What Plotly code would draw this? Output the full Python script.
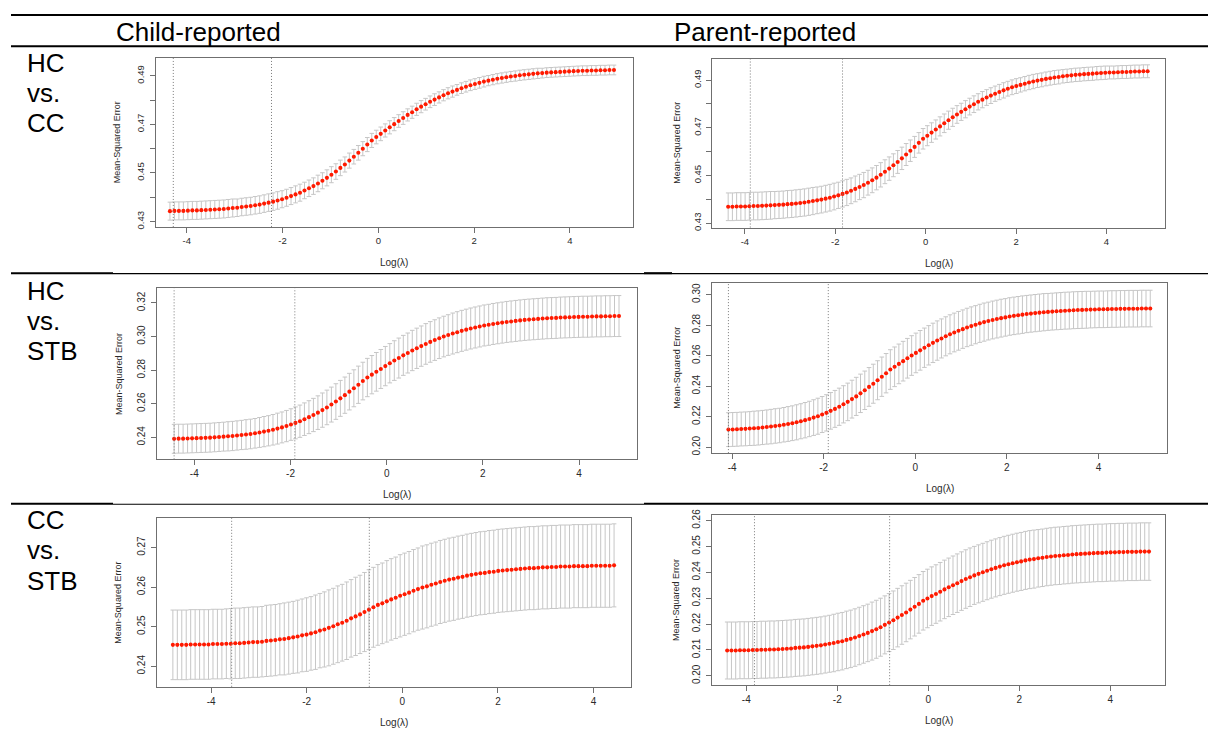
import numpy as np
import plotly.graph_objects as go

W, H = 1208, 729

# ---------------------------------------------------------------------------
# Cross-validated LASSO curves: mean-squared error (+/- 1 SE) along a
# 100-value lambda path, with lambda.min and lambda.1se marked.
# Each path is an evenly spaced log(lambda) grid between the two end points.
# ---------------------------------------------------------------------------

# Child-reported, HC vs. CC
loglam_child_hc_cc = [-4.35, 4.92]
cut_child_hc_cc = [-4.28, -2.23]
mse_child_hc_cc = [
    0.4343, 0.4344, 0.4344, 0.4344, 0.4345, 0.4346, 0.4346, 0.4347, 0.4348, 0.4349,
    0.4350, 0.4351, 0.4352, 0.4354, 0.4356, 0.4357, 0.4360, 0.4362, 0.4364, 0.4367,
    0.4370, 0.4374, 0.4378, 0.4382, 0.4387, 0.4392, 0.4398, 0.4405, 0.4412, 0.4419,
    0.4428, 0.4437, 0.4446, 0.4457, 0.4468, 0.4480, 0.4493, 0.4506, 0.4521, 0.4535,
    0.4551, 0.4567, 0.4583, 0.4600, 0.4617, 0.4634, 0.4648, 0.4661, 0.4675, 0.4688,
    0.4701, 0.4714, 0.4726, 0.4739, 0.4750, 0.4762, 0.4773, 0.4783, 0.4793, 0.4802,
    0.4811, 0.4820, 0.4828, 0.4835, 0.4842, 0.4849, 0.4855, 0.4861, 0.4866, 0.4871,
    0.4876, 0.4880, 0.4884, 0.4888, 0.4891, 0.4894, 0.4897, 0.4899, 0.4902, 0.4904,
    0.4906, 0.4908, 0.4910, 0.4911, 0.4913, 0.4914, 0.4915, 0.4916, 0.4917, 0.4918,
    0.4919, 0.4920, 0.4921, 0.4921, 0.4922, 0.4922, 0.4923, 0.4923, 0.4924, 0.4924,
]
se_child_hc_cc = [
    0.0037, 0.0037, 0.0037, 0.0037, 0.0037, 0.0037, 0.0037, 0.0037, 0.0037, 0.0037,
    0.0037, 0.0037, 0.0037, 0.0037, 0.0037, 0.0036, 0.0036, 0.0036, 0.0036, 0.0036,
    0.0036, 0.0036, 0.0036, 0.0036, 0.0036, 0.0035, 0.0035, 0.0035, 0.0035, 0.0035,
    0.0034, 0.0034, 0.0034, 0.0034, 0.0033, 0.0033, 0.0033, 0.0032, 0.0032, 0.0031,
    0.0031, 0.0030, 0.0030, 0.0029, 0.0029, 0.0029, 0.0028, 0.0028, 0.0027, 0.0027,
    0.0027, 0.0026, 0.0026, 0.0025, 0.0025, 0.0025, 0.0025, 0.0024, 0.0024, 0.0024,
    0.0023, 0.0023, 0.0023, 0.0023, 0.0022, 0.0022, 0.0022, 0.0022, 0.0022, 0.0022,
    0.0022, 0.0021, 0.0021, 0.0021, 0.0021, 0.0021, 0.0021, 0.0021, 0.0021, 0.0021,
    0.0021, 0.0021, 0.0021, 0.0020, 0.0020, 0.0020, 0.0020, 0.0020, 0.0020, 0.0020,
    0.0020, 0.0020, 0.0020, 0.0020, 0.0020, 0.0020, 0.0020, 0.0020, 0.0020, 0.0020,
]

# Parent-reported, HC vs. CC
loglam_parent_hc_cc = [-4.37, 4.91]
cut_parent_hc_cc = [-3.88, -1.84]
mse_parent_hc_cc = [
    0.4369, 0.4369, 0.4370, 0.4370, 0.4370, 0.4371, 0.4372, 0.4372, 0.4373, 0.4374,
    0.4375, 0.4376, 0.4377, 0.4378, 0.4380, 0.4381, 0.4383, 0.4385, 0.4387, 0.4390,
    0.4393, 0.4396, 0.4399, 0.4403, 0.4407, 0.4412, 0.4417, 0.4423, 0.4429, 0.4436,
    0.4444, 0.4452, 0.4460, 0.4470, 0.4480, 0.4491, 0.4503, 0.4516, 0.4529, 0.4543,
    0.4557, 0.4572, 0.4588, 0.4604, 0.4620, 0.4637, 0.4654, 0.4667, 0.4680, 0.4693,
    0.4706, 0.4719, 0.4732, 0.4744, 0.4756, 0.4767, 0.4778, 0.4789, 0.4799, 0.4809,
    0.4818, 0.4827, 0.4835, 0.4843, 0.4850, 0.4857, 0.4864, 0.4870, 0.4875, 0.4880,
    0.4885, 0.4890, 0.4894, 0.4898, 0.4901, 0.4905, 0.4908, 0.4911, 0.4913, 0.4916,
    0.4918, 0.4920, 0.4922, 0.4923, 0.4925, 0.4926, 0.4927, 0.4929, 0.4930, 0.4931,
    0.4932, 0.4932, 0.4933, 0.4934, 0.4934, 0.4935, 0.4936, 0.4936, 0.4937, 0.4937,
]
se_parent_hc_cc = [
    0.0058, 0.0058, 0.0058, 0.0058, 0.0058, 0.0058, 0.0058, 0.0058, 0.0058, 0.0058,
    0.0058, 0.0057, 0.0057, 0.0057, 0.0057, 0.0057, 0.0057, 0.0057, 0.0057, 0.0057,
    0.0057, 0.0056, 0.0056, 0.0056, 0.0056, 0.0056, 0.0055, 0.0055, 0.0055, 0.0054,
    0.0054, 0.0053, 0.0053, 0.0052, 0.0052, 0.0051, 0.0051, 0.0050, 0.0049, 0.0048,
    0.0048, 0.0047, 0.0046, 0.0045, 0.0044, 0.0043, 0.0043, 0.0042, 0.0041, 0.0040,
    0.0040, 0.0039, 0.0038, 0.0038, 0.0037, 0.0036, 0.0036, 0.0035, 0.0035, 0.0034,
    0.0034, 0.0033, 0.0033, 0.0032, 0.0032, 0.0032, 0.0031, 0.0031, 0.0031, 0.0030,
    0.0030, 0.0030, 0.0030, 0.0029, 0.0029, 0.0029, 0.0029, 0.0029, 0.0029, 0.0028,
    0.0028, 0.0028, 0.0028, 0.0028, 0.0028, 0.0028, 0.0028, 0.0028, 0.0028, 0.0028,
    0.0027, 0.0027, 0.0027, 0.0027, 0.0027, 0.0027, 0.0027, 0.0027, 0.0027, 0.0027,
]

# Child-reported, HC vs. STB
loglam_child_hc_stb = [-4.42, 4.83]
cut_child_hc_stb = [-4.42, -1.91]
mse_child_hc_stb = [
    0.2391, 0.2392, 0.2392, 0.2393, 0.2394, 0.2395, 0.2396, 0.2397, 0.2398, 0.2400,
    0.2402, 0.2404, 0.2406, 0.2408, 0.2411, 0.2414, 0.2417, 0.2420, 0.2424, 0.2429,
    0.2434, 0.2439, 0.2445, 0.2452, 0.2459, 0.2467, 0.2476, 0.2486, 0.2496, 0.2508,
    0.2520, 0.2533, 0.2547, 0.2562, 0.2578, 0.2595, 0.2613, 0.2632, 0.2651, 0.2672,
    0.2692, 0.2713, 0.2735, 0.2756, 0.2773, 0.2790, 0.2807, 0.2824, 0.2841, 0.2857,
    0.2872, 0.2888, 0.2902, 0.2917, 0.2930, 0.2943, 0.2956, 0.2968, 0.2979, 0.2990,
    0.3000, 0.3009, 0.3018, 0.3026, 0.3034, 0.3041, 0.3048, 0.3054, 0.3060, 0.3066,
    0.3070, 0.3075, 0.3079, 0.3083, 0.3087, 0.3090, 0.3093, 0.3096, 0.3099, 0.3101,
    0.3103, 0.3105, 0.3107, 0.3109, 0.3110, 0.3111, 0.3113, 0.3114, 0.3115, 0.3116,
    0.3117, 0.3118, 0.3118, 0.3119, 0.3120, 0.3120, 0.3121, 0.3121, 0.3122, 0.3122,
]
se_child_hc_stb = [
    0.0086, 0.0086, 0.0086, 0.0086, 0.0086, 0.0086, 0.0086, 0.0086, 0.0086, 0.0086,
    0.0086, 0.0086, 0.0087, 0.0087, 0.0087, 0.0087, 0.0088, 0.0088, 0.0088, 0.0089,
    0.0090, 0.0090, 0.0091, 0.0092, 0.0092, 0.0093, 0.0094, 0.0095, 0.0096, 0.0097,
    0.0098, 0.0099, 0.0100, 0.0102, 0.0103, 0.0104, 0.0106, 0.0107, 0.0108, 0.0109,
    0.0110, 0.0111, 0.0112, 0.0114, 0.0114, 0.0115, 0.0116, 0.0117, 0.0117, 0.0118,
    0.0119, 0.0119, 0.0119, 0.0120, 0.0120, 0.0120, 0.0121, 0.0121, 0.0121, 0.0121,
    0.0121, 0.0121, 0.0122, 0.0122, 0.0122, 0.0122, 0.0122, 0.0122, 0.0122, 0.0122,
    0.0122, 0.0122, 0.0122, 0.0122, 0.0122, 0.0122, 0.0122, 0.0122, 0.0122, 0.0122,
    0.0122, 0.0122, 0.0122, 0.0122, 0.0122, 0.0122, 0.0122, 0.0122, 0.0122, 0.0122,
    0.0122, 0.0122, 0.0122, 0.0122, 0.0122, 0.0122, 0.0122, 0.0122, 0.0122, 0.0122,
]

# Parent-reported, HC vs. STB
loglam_parent_hc_stb = [-4.08, 5.13]
cut_parent_hc_stb = [-4.08, -1.90]
mse_parent_hc_stb = [
    0.2115, 0.2116, 0.2117, 0.2119, 0.2120, 0.2122, 0.2124, 0.2126, 0.2129, 0.2132,
    0.2135, 0.2139, 0.2142, 0.2147, 0.2152, 0.2157, 0.2163, 0.2170, 0.2177, 0.2185,
    0.2194, 0.2203, 0.2214, 0.2225, 0.2238, 0.2251, 0.2265, 0.2281, 0.2297, 0.2315,
    0.2333, 0.2353, 0.2373, 0.2395, 0.2416, 0.2439, 0.2462, 0.2485, 0.2509, 0.2527,
    0.2546, 0.2564, 0.2583, 0.2601, 0.2618, 0.2635, 0.2652, 0.2668, 0.2684, 0.2699,
    0.2713, 0.2727, 0.2740, 0.2752, 0.2763, 0.2774, 0.2785, 0.2794, 0.2803, 0.2812,
    0.2820, 0.2827, 0.2834, 0.2840, 0.2846, 0.2851, 0.2857, 0.2861, 0.2865, 0.2869,
    0.2873, 0.2876, 0.2879, 0.2882, 0.2885, 0.2887, 0.2889, 0.2891, 0.2893, 0.2895,
    0.2896, 0.2898, 0.2899, 0.2900, 0.2901, 0.2902, 0.2903, 0.2904, 0.2904, 0.2905,
    0.2906, 0.2906, 0.2907, 0.2907, 0.2908, 0.2908, 0.2908, 0.2909, 0.2909, 0.2909,
]
se_parent_hc_stb = [
    0.0111, 0.0111, 0.0111, 0.0111, 0.0111, 0.0111, 0.0112, 0.0112, 0.0112, 0.0112,
    0.0113, 0.0113, 0.0113, 0.0113, 0.0114, 0.0114, 0.0115, 0.0115, 0.0116, 0.0116,
    0.0117, 0.0118, 0.0118, 0.0119, 0.0120, 0.0121, 0.0122, 0.0122, 0.0123, 0.0124,
    0.0125, 0.0126, 0.0126, 0.0127, 0.0128, 0.0128, 0.0129, 0.0129, 0.0130, 0.0130,
    0.0130, 0.0130, 0.0130, 0.0130, 0.0130, 0.0130, 0.0129, 0.0129, 0.0129, 0.0129,
    0.0128, 0.0128, 0.0128, 0.0127, 0.0127, 0.0126, 0.0126, 0.0126, 0.0125, 0.0125,
    0.0125, 0.0124, 0.0124, 0.0124, 0.0124, 0.0123, 0.0123, 0.0123, 0.0123, 0.0123,
    0.0122, 0.0122, 0.0122, 0.0122, 0.0122, 0.0121, 0.0121, 0.0121, 0.0121, 0.0121,
    0.0121, 0.0121, 0.0121, 0.0121, 0.0121, 0.0120, 0.0120, 0.0120, 0.0120, 0.0120,
    0.0120, 0.0120, 0.0120, 0.0120, 0.0120, 0.0120, 0.0120, 0.0120, 0.0120, 0.0120,
]

# Child-reported, CC vs. STB
loglam_child_cc_stb = [-4.80, 4.43]
cut_child_cc_stb = [-3.57, -0.69]
mse_child_cc_stb = [
    0.2454, 0.2454, 0.2454, 0.2454, 0.2455, 0.2455, 0.2455, 0.2455, 0.2455, 0.2456,
    0.2456, 0.2456, 0.2457, 0.2457, 0.2458, 0.2458, 0.2459, 0.2460, 0.2461, 0.2461,
    0.2462, 0.2464, 0.2465, 0.2466, 0.2468, 0.2469, 0.2471, 0.2473, 0.2475, 0.2478,
    0.2480, 0.2483, 0.2486, 0.2490, 0.2493, 0.2497, 0.2501, 0.2506, 0.2510, 0.2515,
    0.2521, 0.2526, 0.2531, 0.2537, 0.2543, 0.2549, 0.2555, 0.2559, 0.2564, 0.2569,
    0.2573, 0.2578, 0.2582, 0.2586, 0.2591, 0.2595, 0.2599, 0.2602, 0.2606, 0.2609,
    0.2613, 0.2616, 0.2619, 0.2621, 0.2624, 0.2626, 0.2629, 0.2631, 0.2633, 0.2635,
    0.2636, 0.2638, 0.2639, 0.2641, 0.2642, 0.2643, 0.2644, 0.2645, 0.2646, 0.2647,
    0.2648, 0.2648, 0.2649, 0.2650, 0.2650, 0.2651, 0.2651, 0.2652, 0.2652, 0.2652,
    0.2653, 0.2653, 0.2653, 0.2653, 0.2654, 0.2654, 0.2654, 0.2654, 0.2654, 0.2655,
]
se_child_cc_stb = [
    0.0088, 0.0088, 0.0088, 0.0088, 0.0088, 0.0088, 0.0088, 0.0088, 0.0088, 0.0088,
    0.0088, 0.0088, 0.0088, 0.0089, 0.0089, 0.0089, 0.0089, 0.0089, 0.0089, 0.0089,
    0.0089, 0.0090, 0.0090, 0.0090, 0.0090, 0.0091, 0.0091, 0.0091, 0.0092, 0.0092,
    0.0093, 0.0093, 0.0094, 0.0094, 0.0095, 0.0096, 0.0096, 0.0097, 0.0097, 0.0098,
    0.0098, 0.0099, 0.0099, 0.0100, 0.0101, 0.0101, 0.0102, 0.0102, 0.0103, 0.0103,
    0.0103, 0.0104, 0.0104, 0.0104, 0.0104, 0.0104, 0.0105, 0.0105, 0.0105, 0.0105,
    0.0105, 0.0105, 0.0105, 0.0105, 0.0105, 0.0105, 0.0105, 0.0105, 0.0105, 0.0105,
    0.0105, 0.0105, 0.0105, 0.0105, 0.0105, 0.0105, 0.0105, 0.0105, 0.0105, 0.0105,
    0.0105, 0.0105, 0.0105, 0.0105, 0.0105, 0.0105, 0.0105, 0.0105, 0.0105, 0.0105,
    0.0105, 0.0105, 0.0105, 0.0105, 0.0105, 0.0105, 0.0105, 0.0105, 0.0105, 0.0105,
]

# Parent-reported, CC vs. STB
loglam_parent_cc_stb = [-4.42, 4.85]
cut_parent_cc_stb = [-3.82, -0.85]
mse_parent_cc_stb = [
    0.2098, 0.2098, 0.2098, 0.2099, 0.2099, 0.2099, 0.2100, 0.2100, 0.2101, 0.2101,
    0.2102, 0.2102, 0.2103, 0.2104, 0.2105, 0.2106, 0.2108, 0.2109, 0.2110, 0.2112,
    0.2114, 0.2116, 0.2118, 0.2121, 0.2124, 0.2127, 0.2131, 0.2134, 0.2139, 0.2143,
    0.2148, 0.2154, 0.2160, 0.2166, 0.2173, 0.2180, 0.2188, 0.2197, 0.2206, 0.2215,
    0.2225, 0.2235, 0.2245, 0.2256, 0.2267, 0.2278, 0.2290, 0.2299, 0.2308, 0.2316,
    0.2325, 0.2334, 0.2342, 0.2350, 0.2358, 0.2366, 0.2374, 0.2381, 0.2388, 0.2394,
    0.2400, 0.2406, 0.2412, 0.2417, 0.2422, 0.2427, 0.2431, 0.2435, 0.2439, 0.2442,
    0.2446, 0.2449, 0.2451, 0.2454, 0.2456, 0.2459, 0.2461, 0.2463, 0.2464, 0.2466,
    0.2467, 0.2469, 0.2470, 0.2471, 0.2472, 0.2473, 0.2474, 0.2475, 0.2475, 0.2476,
    0.2477, 0.2477, 0.2478, 0.2478, 0.2479, 0.2479, 0.2479, 0.2480, 0.2480, 0.2480,
]
se_parent_cc_stb = [
    0.0110, 0.0110, 0.0110, 0.0110, 0.0110, 0.0110, 0.0110, 0.0110, 0.0110, 0.0110,
    0.0110, 0.0110, 0.0110, 0.0110, 0.0110, 0.0110, 0.0110, 0.0110, 0.0110, 0.0110,
    0.0110, 0.0110, 0.0110, 0.0110, 0.0110, 0.0111, 0.0111, 0.0111, 0.0111, 0.0111,
    0.0111, 0.0111, 0.0111, 0.0111, 0.0112, 0.0112, 0.0112, 0.0112, 0.0112, 0.0113,
    0.0113, 0.0113, 0.0113, 0.0113, 0.0113, 0.0113, 0.0113, 0.0113, 0.0113, 0.0113,
    0.0113, 0.0113, 0.0113, 0.0113, 0.0113, 0.0113, 0.0113, 0.0113, 0.0112, 0.0112,
    0.0112, 0.0112, 0.0112, 0.0112, 0.0112, 0.0112, 0.0112, 0.0112, 0.0112, 0.0112,
    0.0112, 0.0112, 0.0112, 0.0111, 0.0111, 0.0111, 0.0111, 0.0111, 0.0111, 0.0111,
    0.0111, 0.0111, 0.0111, 0.0111, 0.0111, 0.0111, 0.0111, 0.0111, 0.0111, 0.0111,
    0.0111, 0.0111, 0.0111, 0.0111, 0.0111, 0.0111, 0.0111, 0.0111, 0.0111, 0.0111,
]

column_titles = ["Child-reported", "Parent-reported"]
row_titles = [["HC", "vs.", "CC"], ["HC", "vs.", "STB"], ["CC", "vs.", "STB"]]
x_tick_values = [-4, -2, 0, 2, 4]
x_tick_text = ["-4", "-2", "0", "2", "4"]

# ---------------------------------------------------------------------------
# Page geometry (pixels): plot box, axis ranges and y tick spacing per panel
# ---------------------------------------------------------------------------
panels = [
    dict(grid=loglam_child_hc_cc, mse=mse_child_hc_cc, se=se_child_hc_cc, cut=cut_child_hc_cc,
         box=(156.0, 632.6, 52.7, 223.7), xr=(-4.641, 5.309), yr=(0.4278, 0.4973),
         tick0=0.43, dtick=0.02, minor=0.01, fs=9.5, tdx=38.3),
    dict(grid=loglam_parent_hc_cc, mse=mse_parent_hc_cc, se=se_parent_hc_cc, cut=cut_parent_hc_cc,
         box=(712.3, 1165.0, 53.3, 224.3), xr=(-4.721, 5.294), yr=(0.4282, 0.4990),
         tick0=0.43, dtick=0.02, minor=0.01, fs=9.5, tdx=35.6),
    dict(grid=loglam_child_hc_stb, mse=mse_child_hc_stb, se=se_child_hc_stb, cut=cut_child_hc_stb,
         box=(156.7, 636.7, 285.7, 459.0), xr=(-4.782, 5.198), yr=(0.2269, 0.3288),
         tick0=0.24, dtick=0.02, minor=None, fs=10, tdx=38.4),
    dict(grid=loglam_parent_hc_stb, mse=mse_parent_hc_stb, se=se_parent_hc_stb, cut=cut_parent_hc_stb,
         box=(712.3, 1166.7, 280.7, 452.7), xr=(-4.432, 5.489), yr=(0.1961, 0.3075),
         tick0=0.20, dtick=0.02, minor=None, fs=10, tdx=35.6),
    dict(grid=loglam_child_cc_stb, mse=mse_child_cc_stb, se=se_child_cc_stb, cut=cut_child_cc_stb,
         box=(156.7, 630.7, 518.3, 689.3), xr=(-5.138, 4.778), yr=(0.2348, 0.2775),
         tick0=0.24, dtick=0.01, minor=None, fs=10, tdx=38.4),
    dict(grid=loglam_parent_cc_stb, mse=mse_parent_cc_stb, se=se_parent_cc_stb, cut=cut_parent_cc_stb,
         box=(712.3, 1165.0, 515.7, 687.7), xr=(-4.747, 5.202), yr=(0.1964, 0.2620),
         tick0=0.20, dtick=0.01, minor=None, fs=10, tdx=35.6),
]

FONT = "Liberation Sans, Arial, Helvetica, sans-serif"
INK = "#2a2a2a"
FRAME = "#6f6f6f"


def fx(px):
    return px / W


def fy(py):
    return 1 - py / H


fig = go.Figure()
annotations = []
shapes = []

for i, p in enumerate(panels):
    n = i + 1
    xa = "x" if n == 1 else f"x{n}"
    ya = "y" if n == 1 else f"y{n}"
    x0, x1, y0, y1 = p["box"]
    loglam = np.linspace(p["grid"][0], p["grid"][1], len(p["mse"]))

    fig.add_trace(go.Scatter(
        x=loglam, y=p["mse"], xaxis=xa, yaxis=ya, mode="markers",
        marker=dict(color="#ff1a00", size=4.1, line=dict(width=0)),
        error_y=dict(type="data", array=p["se"], visible=True,
                     color="#c6c6c6", thickness=1, width=2.3),
        showlegend=False, hoverinfo="skip",
    ))

    axis_common = dict(showgrid=False, zeroline=False, showline=True, mirror=True,
                       linecolor=FRAME, linewidth=1, ticks="outside", ticklen=5,
                       tickcolor=FRAME, tickwidth=1,
                       tickfont=dict(family=FONT, size=p["fs"], color=INK))
    xkey = "xaxis" if n == 1 else f"xaxis{n}"
    ykey = "yaxis" if n == 1 else f"yaxis{n}"
    yaxis = dict(axis_common, domain=[fy(y1), fy(y0)], range=list(p["yr"]),
                 anchor=xa, tick0=p["tick0"], dtick=p["dtick"], tickformat=".2f",
                 tickangle=-90, ticklabelstandoff=2)
    if p["minor"]:
        yaxis["minor"] = dict(dtick=p["minor"], tick0=p["tick0"], ticks="outside",
                              ticklen=5, tickcolor=FRAME, showgrid=False)
    fig.update_layout({
        xkey: dict(axis_common, domain=[fx(x0), fx(x1)], range=list(p["xr"]),
                   anchor=ya, tickvals=x_tick_values, ticktext=x_tick_text),
        ykey: yaxis,
    })

    # lambda.min and lambda.1se markers (fine dotted lines)
    for c in p["cut"]:
        shapes.append(dict(type="line", xref=xa, yref=f"{ya} domain", x0=c, x1=c,
                           y0=0, y1=1,
                           line=dict(color="#7a7a7a", width=1, dash="1px,2px")))

    annotations.append(dict(text="Log(λ)", xref="paper", yref="paper",
                            x=fx((x0 + x1) / 2), y=fy(y1 + 36), showarrow=False,
                            xanchor="center", yanchor="middle",
                            font=dict(family=FONT, size=10, color=INK)))
    annotations.append(dict(text="Mean-Squared Error", xref="paper", yref="paper",
                            x=fx(x0 - p["tdx"]), y=fy((y0 + y1) / 2), showarrow=False,
                            textangle=-90, xanchor="center", yanchor="middle",
                            font=dict(family=FONT, size=9, color=INK)))

# column headers
for text, xpx in zip(column_titles, [114, 672]):
    annotations.append(dict(text=text, xref="paper", yref="paper", x=fx(xpx), y=fy(26),
                            showarrow=False, xanchor="left", yanchor="middle",
                            font=dict(family=FONT, size=26, color="black")))

# row headers
for lines, top in zip(row_titles, [57.4, 288.4, 520.7]):
    for k, t in enumerate(lines):
        annotations.append(dict(text=t, xref="paper", yref="paper", x=fx(25),
                                y=fy(top + 30.5 * k), showarrow=False,
                                xanchor="left", yanchor="middle",
                                font=dict(family=FONT, size=26, color="black")))

# table rules
def rule(xa_px, xb_px, y_px, width):
    shapes.append(dict(type="line", xref="paper", yref="paper",
                       x0=fx(xa_px), x1=fx(xb_px), y0=fy(y_px), y1=fy(y_px),
                       line=dict(color="black", width=width)))

rule(11, 1208, 9, 2)
rule(11, 1208, 40.7, 2)
rule(11, 113, 270.5, 2)
rule(113, 1208, 271, 1.1)
rule(644, 672, 270.5, 2)
rule(11, 113, 504, 2)
rule(113, 644, 504.5, 1.1)
rule(644, 1208, 504, 2)

fig.update_layout(
    width=W, height=H, autosize=False,
    margin=dict(l=0, r=0, t=0, b=0),
    paper_bgcolor="white", plot_bgcolor="white",
    annotations=annotations, shapes=shapes,
    showlegend=False,
)

fig.write_html("out.html", config={"displayModeBar": False})
